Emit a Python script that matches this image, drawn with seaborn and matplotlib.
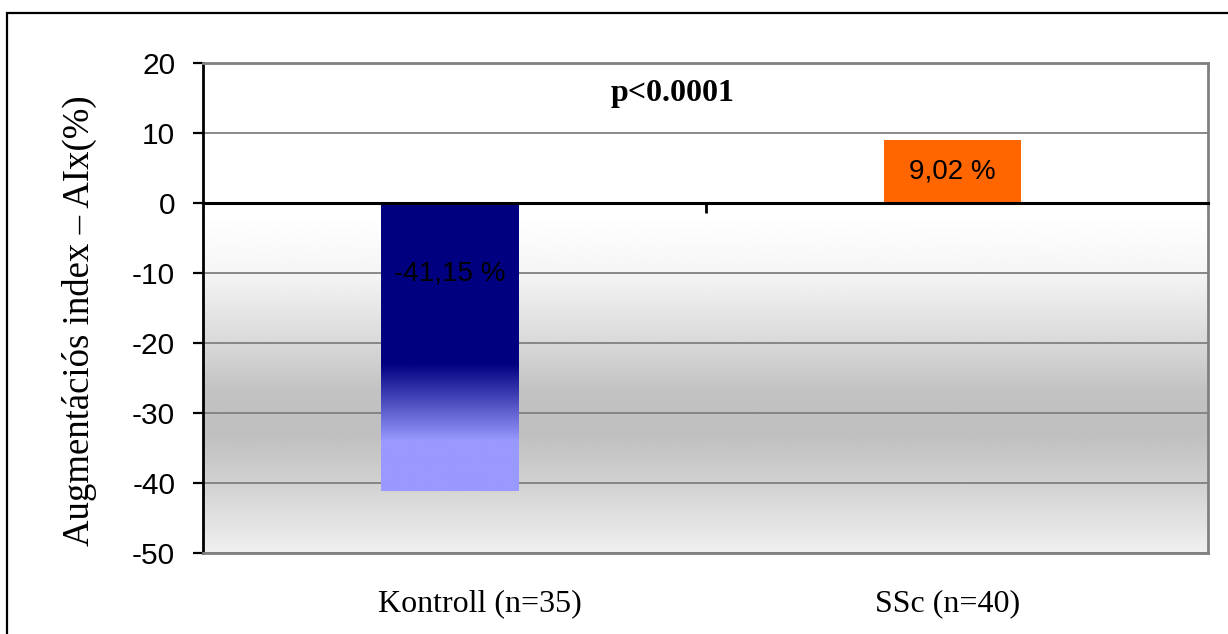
import numpy as np
import pandas as pd
import matplotlib
matplotlib.use("Agg")
import matplotlib.pyplot as plt
import matplotlib.transforms as mtransforms
import seaborn as sns
from matplotlib.colors import to_rgb
from matplotlib.patches import Rectangle

# ---- data ----
categories = ["Kontroll (n=35)", "SSc (n=40)"]
values = [-41.15, 9.02]
value_labels = ["-41,15 %", "9,02 %"]
bar_colors = ["#000080", "#FF6600"]
yticks = [20, 10, 0, -10, -20, -30, -40, -50]
p_text = "p<0.0001"
ylabel = "Augmentációs index – AIx(%)"

sns.set_style("white")
plt.rcParams["font.family"] = ["Liberation Sans", "DejaVu Sans"]
plt.rcParams["axes.unicode_minus"] = False
plt.rcParams["text.color"] = "black"
plt.rcParams["axes.labelcolor"] = "black"
plt.rcParams["xtick.color"] = "black"
plt.rcParams["ytick.color"] = "black"
SERIF = ["Liberation Serif", "DejaVu Serif"]

W, H = 1228, 634
fig = plt.figure(figsize=(W / 100, H / 100), dpi=100)
ax = fig.add_axes([203 / W, 1 - 553 / H, (1208 - 203) / W, (553 - 63) / H])

df = pd.DataFrame({"cat": categories, "val": values})
sns.barplot(data=df, x="cat", y="val", hue="cat", palette=bar_colors,
            width=0.274, saturation=1, legend=False, ax=ax, linewidth=0,
            zorder=3)

YMIN, YMAX = -50, 20
XMIN = -0.4915
XMAX = XMIN + 2

# background gradient (plot area fill)
ys = np.linspace(YMAX, YMIN, 700)
stops_y = [-50, -40, -33, -27, -20, -10, -3, 0, 20]
stops_v = [0.94, 0.82, 0.75, 0.76, 0.85, 0.96, 0.995, 1.0, 1.0]
g = np.interp(ys, stops_y, stops_v)
bg = np.repeat(g[:, None], 2, axis=1)
ax.imshow(bg, cmap="gray", vmin=0, vmax=1, extent=[XMIN, XMAX, YMIN, YMAX],
          aspect="auto", zorder=0, interpolation="bilinear")

# gradient fill for the negative (Kontroll) bar
patch = ax.patches[0]
x0, w = patch.get_x(), patch.get_width()
y0, h = patch.get_y(), patch.get_height()
ytop, ybot = max(y0, y0 + h), min(y0, y0 + h)
gy = np.linspace(ytop, ybot, 500)
frac = np.interp(gy, [ybot, -34, -23, ytop], [1, 1, 0, 0])
c1 = np.array(to_rgb("#000080"))
c2 = np.array(to_rgb("#9999FF"))
cols = c1[None, :] * (1 - frac[:, None]) + c2[None, :] * frac[:, None]
img = np.repeat(cols[:, None, :], 2, axis=1)
im = ax.imshow(img, extent=[x0, x0 + w, ybot, ytop], aspect="auto",
               zorder=3.5, interpolation="bilinear")
im.set_clip_path(patch)

ax.set_xlim(XMIN, XMAX)
ax.set_ylim(YMIN, YMAX)

# grid
ax.set_yticks(yticks)
ax.yaxis.grid(True, color="#808080", linewidth=1.3)
ax.set_axisbelow(True)

# spines
ax.spines["left"].set_color("black")
ax.spines["left"].set_linewidth(2)
for s in ["top", "right", "bottom"]:
    ax.spines[s].set_visible(True)
    ax.spines[s].set_color("#808080")
    ax.spines[s].set_linewidth(2)

ax.tick_params(axis="y", left=True, direction="out", length=7, width=1.6,
               color="black", labelsize=21.5, pad=13, labelcolor="black")
ax.tick_params(axis="x", bottom=False, length=0, pad=26, labelsize=23,
               labelcolor="black")
label_shift_px = [30, -5]
for t, dx in zip(ax.get_xticklabels(), label_shift_px):
    t.set_fontfamily(SERIF)
    t.set_transform(t.get_transform() + mtransforms.Affine2D().translate(dx, 0))
ax.set_xlabel("")

ax.set_ylabel(ylabel, fontsize=26.5, fontfamily=SERIF, color="black")
ax.yaxis.set_label_coords(-0.105, 0.475)

# zero line with a tick at the middle of the category axis
secax = ax.secondary_xaxis((0 - YMIN) / (YMAX - YMIN))
secax.set_xticks([(XMIN + XMAX) / 2])
secax.xaxis.set_ticks_position("bottom")
secax.tick_params(axis="x", direction="out", length=7, width=2, color="black",
                  labelbottom=False, labeltop=False)
for s in secax.spines.values():
    s.set_color("black")
    s.set_linewidth(2.2)
secax.set_zorder(5)

# value labels
label_y = [-10, values[1] / 2]
for p, lab, yy in zip(ax.patches, value_labels, label_y):
    ax.text(p.get_x() + p.get_width() / 2, yy, lab, ha="center", va="center",
            fontsize=20, color="black", zorder=6)

ax.text(0.442, 15.7, p_text, ha="center", va="center", fontsize=23,
        fontweight="bold", fontfamily=SERIF, color="black", zorder=6)

# outer frame of the figure
fig.patches.append(Rectangle((7 / W, -0.5), 2, 0.5 + (1 - 13 / H),
                             transform=fig.transFigure, fill=False,
                             linewidth=1.6, edgecolor="black"))

fig.savefig("out.png", dpi=100)
